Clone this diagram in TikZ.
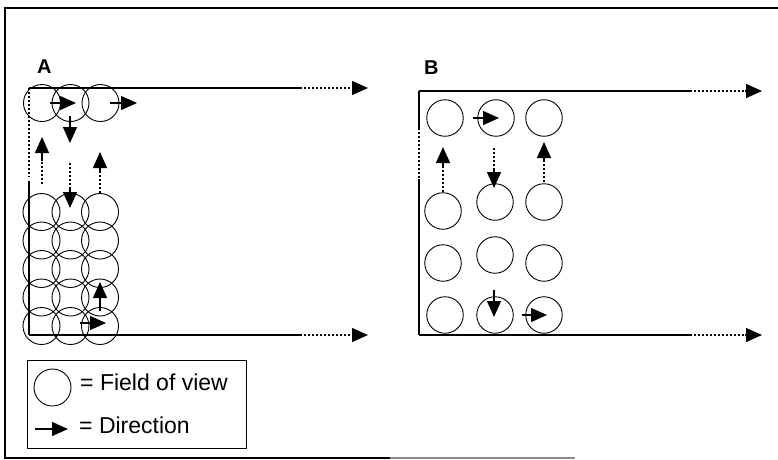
\documentclass[tikz,border=0pt]{standalone}
\usepackage{fontspec}
\setmainfont{Liberation Sans}
\usetikzlibrary{arrows.meta}
\tikzset{
  fov/.style={circle, draw, line width=0.9pt, minimum size=37pt, inner sep=0pt},
  axisline/.style={line width=1.2pt},
  dotline/.style={line width=1.1pt, dash pattern=on 2pt off 2pt},
  dirarrow/.style={line width=1.3pt, -{Triangle[length=16pt,width=14pt]}},
  axisarrow/.style={line width=1.2pt, -{Triangle[length=16pt,width=14pt]}},
  panellabel/.style={font=\fontsize{20}{22}\selectfont\bfseries, inner sep=0pt, anchor=base west},
  legendtext/.style={font=\fontsize{23}{26}\selectfont, inner sep=0pt, anchor=base west}
}
\begin{document}
\begin{tikzpicture}[x=1pt,y=-1pt]
\useasboundingbox (0,0) rectangle (778,459);
% outer frame (open at right)
\draw[line width=1.1pt] (778,8) -- (5,8) -- (5,458) -- (390,458);
\draw[line width=1.1pt, black!45] (390,458) -- (575,458);

% ---------------- Panel A ----------------
\node[panellabel] (labA) at (37,73) {A};
\coordinate (A0) at (29,88);
\coordinate (A1) at (300,88);
\coordinate (A2) at (352,88);
\coordinate (A3) at (368,88);
\coordinate (B0) at (29,335);
\coordinate (B1) at (300,335);
\coordinate (B2) at (352,335);
\coordinate (B3) at (368,335);
\coordinate (L1) at (29,177);
\coordinate (L2) at (29,181);
\draw[axisline] (A0) -- (A1);
\draw[dotline] (A1) -- (A2);
\draw[axisarrow] (A2) -- (A3);
\draw[axisline] (B0) -- (B1);
\draw[dotline] (B1) -- (B2);
\draw[axisarrow] (B2) -- (B3);
\draw[dotline] (A0) -- (L1);
\draw[axisline] (L2) -- (B0);

% top row
\node[fov] (at1) at (42,103) {};
\node[fov] (at2) at (70.5,103) {};
\node[fov] (at3) at (100.5,103) {};
% grid
\foreach \r/\y in {1/212,2/240.5,3/269,4/297.5,5/326}{
  \foreach \c/\x in {1/41.5,2/70.5,3/100}{
    \node[fov] (ag\r\c) at (\x,\y) {};
  }
}
% arrows in A
\draw[dirarrow] (50,103) -- (76,103);
\draw[dirarrow] (110,103) -- (137,103);
\draw[dirarrow] (70,116) -- (70,143);
\draw[dotline] (42,184) -- (42,160);
\draw[dirarrow] (42,161) -- (42,137);
\draw[dotline] (100,193) -- (100,172);
\draw[dirarrow] (100,173) -- (100,152);
\draw[dotline] (70,163) -- (70,188);
\draw[dirarrow] (70,187) -- (70,208);
\draw[dirarrow] (100,311) -- (100,282);
\draw[dirarrow] (80,323) -- (106,323);

% ---------------- Panel B ----------------
\node[panellabel] (labB) at (424,74.5) {B};
\coordinate (C0) at (419,91);
\coordinate (C1) at (690,91);
\coordinate (C2) at (745,91);
\coordinate (C3) at (762,91);
\coordinate (D0) at (419,335);
\coordinate (D1) at (690,335);
\coordinate (D2) at (745,335);
\coordinate (D3) at (762,335);
\coordinate (M1) at (419,128);
\coordinate (M2) at (419,179);
\draw[axisline] (C0) -- (C1);
\draw[dotline] (C1) -- (C2);
\draw[axisarrow] (C2) -- (C3);
\draw[axisline] (D0) -- (D1);
\draw[dotline] (D1) -- (D2);
\draw[axisarrow] (D2) -- (D3);
\draw[axisline] (C0) -- (M1);
\draw[dotline] (M1) -- (M2);
\draw[axisline] (M2) -- (D0);

\begin{scope}[fov/.append style={minimum size=36.5pt}]
\node[fov] (b11) at (445,118) {};
\node[fov] (b12) at (496,118) {};
\node[fov] (b13) at (544,118) {};
\node[fov] (b21) at (443,211) {};
\node[fov] (b22) at (495,202) {};
\node[fov] (b23) at (544,202) {};
\node[fov] (b31) at (443,263) {};
\node[fov] (b32) at (495,255) {};
\node[fov] (b33) at (544,263) {};
\node[fov] (b41) at (445,315) {};
\node[fov] (b42) at (495,315) {};
\node[fov] (b43) at (544,315) {};
\end{scope}
\draw[dirarrow] (473,118) -- (499,118);
\draw[dotline] (443,192) -- (443,167);
\draw[dirarrow] (443,168) -- (443,147);
\draw[dotline] (494,148) -- (494,170);
\draw[dirarrow] (494,169) -- (494,188);
\draw[dotline] (544,182) -- (544,160);
\draw[dirarrow] (544,161) -- (544,142);
\draw[dirarrow] (494,290) -- (494,317);
\draw[dirarrow] (522,315) -- (547,315);

% ---------------- Legend ----------------
\node[draw, line width=1.1pt, minimum width=219pt, minimum height=88pt, inner sep=0pt, anchor=north west] (legend) at (27,360) {};
\node[circle, draw, line width=0.9pt, minimum size=37pt, inner sep=0pt] (legcirc) at (52.5,387.5) {};
\node[legendtext] (legt1) at (80,390) {= Field of view};
\coordinate (la0) at (35,429);
\coordinate (la1) at (68,429);
\draw[dirarrow] (la0) -- (la1);
\node[legendtext] (legt2) at (79,433) {= Direction};
\end{tikzpicture}
\end{document}
